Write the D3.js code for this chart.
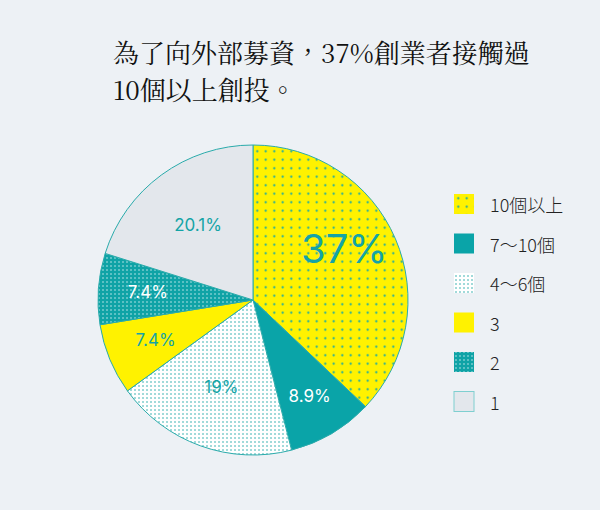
<!DOCTYPE html><html><head><meta charset="utf-8"><script src="https://d3js.org/d3.v7.min.js"></script>
<style>body{margin:0;background:#edf1f5}</style></head><body><svg id="c" width="600" height="510"></svg>
<script>
const categories=["10個以上","7～10個","4～6個","3","2","1"];
const values=[37,8.9,19,7.4,7.4,20.1];
const labels=["37%","8.9%","19%","7.4%","7.4%","20.1%"];
const svg=d3.select("#c");
svg.append("rect").attr("width",600).attr("height",510).attr("fill","#edf1f5");
const defs=svg.append("defs");
function pat(id,bg,dot,s,r){const p=defs.append("pattern").attr("id",id).attr("width",s).attr("height",s).attr("patternUnits","userSpaceOnUse");
p.append("rect").attr("width",s).attr("height",s).attr("fill",bg);p.append("circle").attr("cx",s/2).attr("cy",s/2).attr("r",r).attr("fill",dot);}
pat("p0","#fff200","#14a8a8",8.5,1.1);pat("p2","#ffffff","#2aabab",4,0.8);pat("p4","#0fa3a6","#bfe9ea",4,0.8);
const fills=["url(#p0)","#0aa4a8","url(#p2)","#fff200","url(#p4)","#e3e7ec"];
const t=svg.append("text").attr("font-family","Noto Serif CJK TC, Liberation Serif, serif").attr("font-size",26).attr("fill","#111");
t.append("tspan").attr("x",113).attr("y",63).text("為了向外部募資，37%創業者接觸過");
t.append("tspan").attr("x",113).attr("y",100).text("10個以上創投。");
const cx=253,cy=300,R=155;
const pie=d3.pie().sort(null).value(d=>d)(values);
const arc=d3.arc().innerRadius(0).outerRadius(R);
const g=svg.append("g").attr("transform",`translate(${cx},${cy})`);
g.selectAll("path").data(pie).join("path").attr("d",arc).attr("fill",(d,i)=>fills[i]).attr("stroke","#2aabab").attr("stroke-width",1);
const lp=[[0.55,40,0,-18],[0.72,17,0,0],[0.6,17,0,0],[0.68,17,0,0],[0.68,17,0,0],[0.6,17,0,0]];
g.selectAll("text.l").data(pie).join("text").attr("font-family","Inter, Noto Sans, sans-serif")
.attr("text-anchor","middle").attr("dominant-baseline","central")
.attr("fill",(d,i)=>(i==1||i==4)?"#fff":"#14a4a6")
.attr("font-size",(d,i)=>lp[i][1])
.attr("transform",(d,i)=>{const c=d3.arc().innerRadius(R*lp[i][0]).outerRadius(R*lp[i][0]).centroid(d);return `translate(${c[0]+(i==0?13:0)},${c[1]+lp[i][3]})`;})
.text((d,i)=>labels[i]);
const lg=svg.append("g").attr("transform","translate(454,194)");
categories.forEach((c,i)=>{const y=i*39.5;
lg.append("rect").attr("x",0).attr("y",y).attr("width",20).attr("height",20).attr("fill",fills[i]).attr("stroke",i==5?"#7fcfd0":"none");
lg.append("text").attr("x",36).attr("y",y+10).attr("dominant-baseline","central").attr("font-family","Noto Sans CJK TC, sans-serif").attr("font-weight",300).attr("font-size",18).attr("fill","#222").text(c);});
</script></body></html>
